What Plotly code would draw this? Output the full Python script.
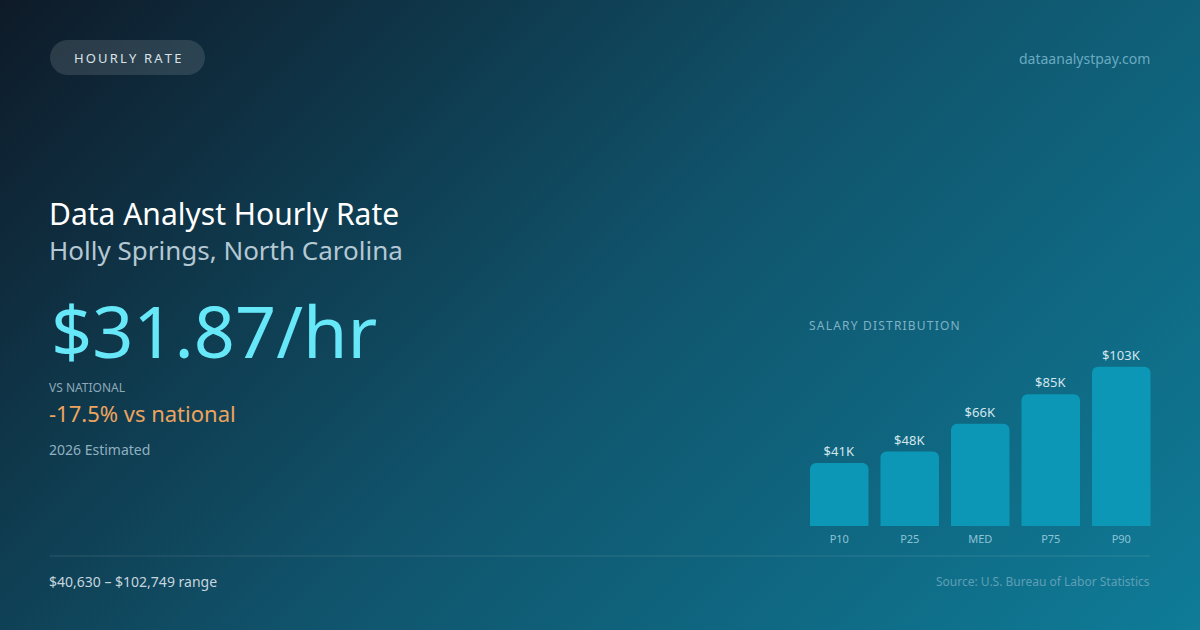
import base64
import plotly.graph_objects as go

# salary distribution (annual, USD)
percentiles = ["P10", "P25", "MED", "P75", "P90"]
salaries = [40630, 48000, 66000, 85000, 102749]
salary_labels = ["$41K", "$48K", "$66K", "$85K", "$103K"]

job_title = "Data Analyst Hourly Rate"
location = "Holly Springs, North Carolina"
hourly_rate = "$31.87/hr"
vs_national = "-17.5% vs national"
range_text = "$40,630 – $102,749 range"

FONT = "Noto Sans"
W, H = 1200, 630

# background gradient (135deg) as an svg image
svg = f"""<svg xmlns='http://www.w3.org/2000/svg' width='{W}' height='{H}'>
<defs><linearGradient id='g' gradientUnits='userSpaceOnUse' x1='0' y1='0' x2='915' y2='915'>
<stop offset='0' stop-color='#0e1a28'/><stop offset='0.5' stop-color='#10536b'/>
<stop offset='1' stop-color='#0f7c98'/>
</linearGradient></defs>
<rect width='{W}' height='{H}' fill='url(#g)'/></svg>"""
bg_src = "data:image/svg+xml;base64," + base64.b64encode(svg.encode()).decode()

fig = go.Figure()

fig.add_trace(go.Bar(
    x=percentiles, y=salaries, xaxis="x2", yaxis="y2",
    text=salary_labels, textposition="outside",
    textfont=dict(family=FONT, size=13, color="#d3e6ee"),
    marker=dict(color="#0b97b5", cornerradius=6, line=dict(width=0)),
    cliponaxis=False, hoverinfo="skip", showlegend=False,
))

def spaced(s, sep="\u2009"):
    return sep.join(s)

def label(x, y, text, size, color, anchor="left"):
    fig.add_annotation(x=x, y=y, xref="x", yref="y", text=text, showarrow=False,
                       xanchor=anchor, yanchor="middle",
                       font=dict(family=FONT, size=size, color=color))

# pill
r, k = 17.5, 9.66
x0, x1, y0, y1 = 50, 205, 40, 75
ym = (y0 + y1) / 2
pill = (f"M {x0+r},{y0} H {x1-r} C {x1-r+k},{y0} {x1},{ym-k} {x1},{ym} "
        f"C {x1},{ym+k} {x1-r+k},{y1} {x1-r},{y1} H {x0+r} "
        f"C {x0+r-k},{y1} {x0},{ym+k} {x0},{ym} C {x0},{ym-k} {x0+r-k},{y0} {x0+r},{y0} Z")
fig.add_shape(type="path", path=pill, xref="x", yref="y",
              fillcolor="rgba(255,255,255,0.12)", line=dict(width=0), layer="below")
fig.add_shape(type="line", x0=50, x1=1150, y0=556, y1=556, xref="x", yref="y",
              line=dict(color="rgba(255,255,255,0.12)", width=1), layer="below")

label(127.5, 58, spaced("HOURLY RATE"), 13, "#d9e3ea", "center")
label(1152, 58, "dataanalystpay.com", 14, "#6aaac0", "right")
label(47, 213, job_title, 30, "#ffffff")
label(47, 250, location, 26, "#b4c8d3")
label(49, 330, hourly_rate, 72, "#67e8f9")
label(47, 387, "VS NATIONAL", 12, "#8ea9b8")
label(47, 413, vs_national, 22, "#eda45e")
label(47, 449, "2026 Estimated", 14, "#8fb0c0")
label(807, 325, spaced("SALARY DISTRIBUTION", "\u200a"), 12, "#7fb2c6")
label(47, 581, range_text, 14, "#c6d5de")
label(1152, 581, "Source: U.S. Bureau of Labor Statistics", 12, "#5f9fb5", "right")

fig.update_layout(
    width=W, height=H, margin=dict(l=0, r=0, t=0, b=0),
    paper_bgcolor="#0f3348", plot_bgcolor="rgba(0,0,0,0)",
    images=[dict(source=bg_src, xref="paper", yref="paper", x=0, y=1,
                 sizex=1, sizey=1, sizing="stretch", layer="below")],
    xaxis=dict(range=[0, W], visible=False, domain=[0, 1], fixedrange=True),
    yaxis=dict(range=[H, 0], visible=False, domain=[0, 1], fixedrange=True),
    xaxis2=dict(domain=[804 / W, 1156.5 / W], anchor="y2", showgrid=False,
                showline=False, zeroline=False, ticks="", ticklabelstandoff=5,
                tickfont=dict(family=FONT, size=11, color="#8cc4d6")),
    yaxis2=dict(domain=[1 - 526 / H, 1 - 340 / H], range=[0, 120000], anchor="x2",
                visible=False, showgrid=False),
    bargap=0.17,
)

fig.write_html("out.html", config={"displayModeBar": False},
               post_script="document.body.style.margin='0';")
